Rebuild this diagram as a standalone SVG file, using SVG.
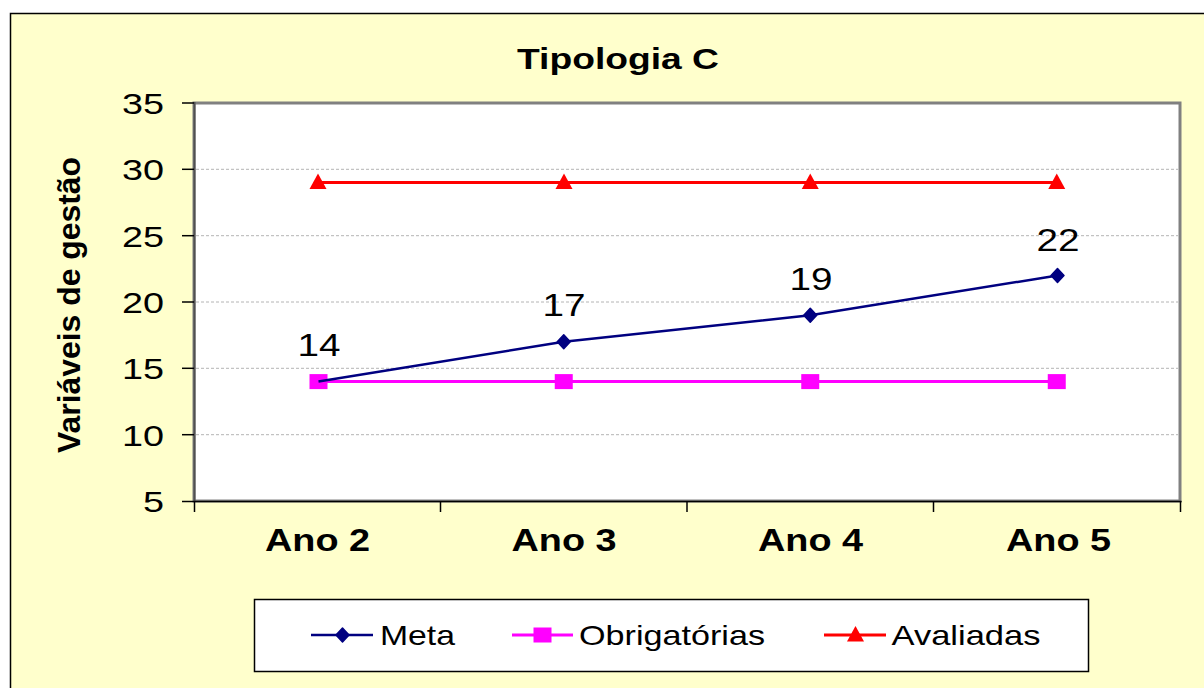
<svg xmlns="http://www.w3.org/2000/svg" width="1204" height="688" viewBox="0 0 1204 688">
<defs>
<style>
text{font-family:"Liberation Sans",Arial,sans-serif;fill:#000}
.title{font-size:29px;font-weight:bold;text-anchor:middle}
.ytl{font-size:30px;text-anchor:end}
.xtl{font-size:32px;font-weight:bold;text-anchor:middle}
.dl{font-size:31px;text-anchor:middle}
.ylab{font-size:31.5px;font-weight:bold;text-anchor:middle}
.leg{font-size:28px}
.grid{stroke:#b4b4b4;stroke-width:1;stroke-dasharray:3 2}
.tick{stroke:#000;stroke-width:1.5}
.meta{fill:none;stroke:#000080;stroke-width:2.5}
.obr{fill:none;stroke:#ff00ff;stroke-width:3}
.ava{fill:none;stroke:#ff0000;stroke-width:3}
</style>
<polygon id="dia" points="0,-7 6.5,0 0,7 -6.5,0" fill="#000080" stroke="#000080" stroke-width="1.5" stroke-linejoin="round"/>
<rect id="sq" x="-9" y="-7.5" width="18" height="15" fill="#ff00ff"/>
<polygon id="tri" points="0,-9 8.5,6.5 -8.5,6.5" fill="#ff0000"/>
</defs>
<g id="background">
<rect x="10.5" y="13.5" width="1210" height="690" fill="#ffffcc" stroke="#000" stroke-width="1.5"/>
</g>
<g id="title">
<text class="title" x="618" y="69" textLength="202" lengthAdjust="spacingAndGlyphs">Tipologia C</text>
</g>
<g id="plot-area">
<rect x="194" y="103" width="986" height="398" fill="#fff" stroke="#808080" stroke-width="3"/>
<g id="gridlines">
<line class="grid" x1="196" y1="169.3" x2="1178" y2="169.3"/>
<line class="grid" x1="196" y1="235.7" x2="1178" y2="235.7"/>
<line class="grid" x1="196" y1="302" x2="1178" y2="302"/>
<line class="grid" x1="196" y1="368.3" x2="1178" y2="368.3"/>
<line class="grid" x1="196" y1="434.7" x2="1178" y2="434.7"/>
</g>
</g>
<g id="axes">
<line x1="194.5" y1="102" x2="194.5" y2="502" stroke="#505050" stroke-width="2"/>
<line x1="194" y1="501.5" x2="1181.5" y2="501.5" stroke="#000" stroke-width="1.5"/>
<line class="tick" x1="182" y1="103" x2="194" y2="103"/>
<line class="tick" x1="182" y1="169.3" x2="194" y2="169.3"/>
<line class="tick" x1="182" y1="235.7" x2="194" y2="235.7"/>
<line class="tick" x1="182" y1="302" x2="194" y2="302"/>
<line class="tick" x1="182" y1="368.3" x2="194" y2="368.3"/>
<line class="tick" x1="182" y1="434.7" x2="194" y2="434.7"/>
<line class="tick" x1="182" y1="501.5" x2="194" y2="501.5"/>
<line class="tick" x1="194.5" y1="501" x2="194.5" y2="512"/>
<line class="tick" x1="440.5" y1="501" x2="440.5" y2="512"/>
<line class="tick" x1="687" y1="501" x2="687" y2="512"/>
<line class="tick" x1="933.5" y1="501" x2="933.5" y2="512"/>
<line class="tick" x1="1180.5" y1="501" x2="1180.5" y2="512"/>
<text class="ytl" x="164" y="114" textLength="42" lengthAdjust="spacingAndGlyphs">35</text>
<text class="ytl" x="164" y="180.3" textLength="42" lengthAdjust="spacingAndGlyphs">30</text>
<text class="ytl" x="164" y="246.7" textLength="42" lengthAdjust="spacingAndGlyphs">25</text>
<text class="ytl" x="164" y="313" textLength="42" lengthAdjust="spacingAndGlyphs">20</text>
<text class="ytl" x="164" y="379.3" textLength="42" lengthAdjust="spacingAndGlyphs">15</text>
<text class="ytl" x="164" y="445.7" textLength="42" lengthAdjust="spacingAndGlyphs">10</text>
<text class="ytl" x="164" y="512" textLength="21" lengthAdjust="spacingAndGlyphs">5</text>
<text class="xtl" x="317.5" y="551" textLength="105" lengthAdjust="spacingAndGlyphs">Ano 2</text>
<text class="xtl" x="564" y="551" textLength="105" lengthAdjust="spacingAndGlyphs">Ano 3</text>
<text class="xtl" x="810.5" y="551" textLength="105" lengthAdjust="spacingAndGlyphs">Ano 4</text>
<text class="xtl" x="1058.5" y="551" textLength="105" lengthAdjust="spacingAndGlyphs">Ano 5</text>
<text class="ylab" transform="translate(79.5,305) rotate(-90)" textLength="296" lengthAdjust="spacingAndGlyphs">Variáveis de gestão</text>
</g>
<g id="series-avaliadas">
<polyline class="ava" points="317.25,182.6 563.75,182.6 810.25,182.6 1056.75,182.6"/>
<use href="#tri" x="318" y="182.6"/>
<use href="#tri" x="564" y="182.6"/>
<use href="#tri" x="810.25" y="182.6"/>
<use href="#tri" x="1056.75" y="182.6"/>
</g>
<g id="series-obrigatorias">
<polyline class="obr" points="317.25,381.6 563.75,381.6 810.25,381.6 1056.75,381.6"/>
<use href="#sq" x="318.5" y="381.6"/>
<use href="#sq" x="563.75" y="381.6"/>
<use href="#sq" x="810.25" y="381.6"/>
<use href="#sq" x="1056.75" y="381.6"/>
</g>
<g id="series-meta">
<polyline class="meta" points="318.5,381.6 563.75,341.8 810.25,315.3 1057.5,275.5"/>
<use href="#dia" x="563.75" y="341.8"/>
<use href="#dia" x="810.25" y="315.3"/>
<use href="#dia" x="1057.5" y="275.5"/>
<text class="dl" x="319" y="356" textLength="43" lengthAdjust="spacingAndGlyphs">14</text>
<text class="dl" x="564" y="316" textLength="43" lengthAdjust="spacingAndGlyphs">17</text>
<text class="dl" x="811" y="290" textLength="43" lengthAdjust="spacingAndGlyphs">19</text>
<text class="dl" x="1058" y="251" textLength="43" lengthAdjust="spacingAndGlyphs">22</text>
</g>
<g id="legend">
<rect x="254.5" y="599.5" width="834" height="72" fill="#fff" stroke="#000" stroke-width="1.5"/>
<line class="meta" x1="311" y1="635" x2="373" y2="635"/>
<use href="#dia" x="342.5" y="635"/>
<text class="leg" x="380" y="644.5" textLength="75" lengthAdjust="spacingAndGlyphs">Meta</text>
<line class="obr" x1="512" y1="635" x2="573" y2="635"/>
<use href="#sq" x="542.5" y="635"/>
<text class="leg" x="579" y="644.5" textLength="186" lengthAdjust="spacingAndGlyphs">Obrigatórias</text>
<line class="ava" x1="824" y1="635" x2="886" y2="635"/>
<use href="#tri" x="855.5" y="635"/>
<text class="leg" x="891.5" y="644.5" textLength="149" lengthAdjust="spacingAndGlyphs">Avaliadas</text>
</g>
</svg>
